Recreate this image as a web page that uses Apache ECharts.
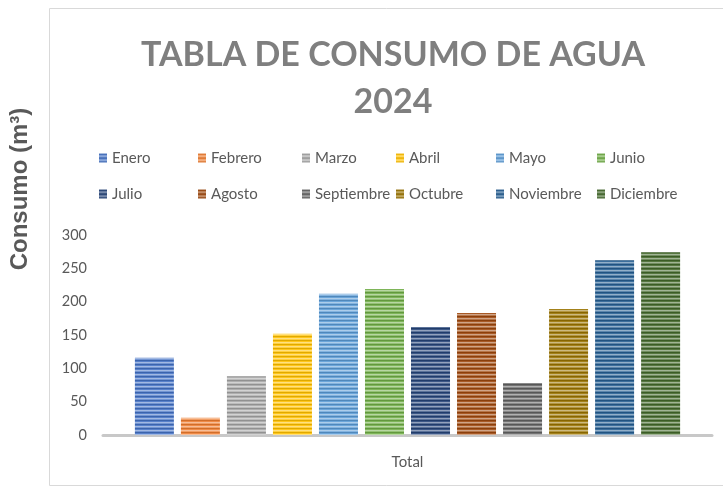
<!DOCTYPE html>
<html>
<head>
<meta charset="utf-8">
<script src="https://cdn.jsdelivr.net/npm/echarts@6/dist/echarts.min.js"></script>
<style>html,body{margin:0;padding:0;background:#fff;}#c{width:723px;height:487px;}</style>
</head>
<body>
<div id="c"></div>
<script>
const categories = ['Total'];
const months = ['Enero','Febrero','Marzo','Abril','Mayo','Junio','Julio','Agosto','Septiembre','Octubre','Noviembre','Diciembre'];
const values = [116, 26, 88, 152, 212, 219, 162, 183, 78, 189, 262, 274];
const yTicks = [0, 50, 100, 150, 200, 250, 300];
const colors = ['#4472C4','#ED7D31','#A5A5A5','#FFC000','#5B9BD5','#70AD47','#264478','#9E480E','#636363','#997300','#255E91','#43682B'];

function hex(c){return [parseInt(c.slice(1,3),16),parseInt(c.slice(3,5),16),parseInt(c.slice(5,7),16)];}
function mix(c,t,a){const x=hex(c);return 'rgb('+x.map(v=>Math.round(v+(t-v)*a)).join(',')+')';}
function stripe(c){
  const cv=document.createElement('canvas');cv.width=2;cv.height=4;
  const g=cv.getContext('2d');
  const rows=[mix(c,0,0.12),mix(c,255,0.1),mix(c,255,0.5),mix(c,255,0.25)];
  rows.forEach((r,i)=>{g.fillStyle=r;g.fillRect(0,i,2,1);});
  return {image:cv,repeat:'repeat'};
}

const chart = echarts.init(document.getElementById('c'));
const legendLefts=[99,198,302,396,496,597];
const legends = legendLefts.map((l,i)=>({
  orient:'vertical', left:l, top:148, padding:0, itemGap:16,
  itemWidth:8, itemHeight:9, icon:'rect',
  data:[months[i], months[i+6]],
  textStyle:{fontFamily:'Lato',fontSize:15,color:'#595959',lineHeight:20}
}));
const series = months.map((m,i)=>({
  name:m, type:'bar', barWidth:39, barGap:'18%',
  data:[values[i]],
  itemStyle:{color:stripe(colors[i])}
}));
chart.setOption({
  animation:false,
  title:{text:'TABLA DE CONSUMO DE AGUA\n2024', left:388, top:27, textAlign:'center',
    textStyle:{fontFamily:'Lato',fontWeight:'bold',fontSize:34,lineHeight:47,color:'#7f7f7f'}},
  legend:legends,
  grid:{left:103,right:11,top:235,bottom:52},
  xAxis:{type:'category',data:categories,
    axisLine:{lineStyle:{color:'#c8c8c8',width:3}},axisTick:{show:false},
    axisLabel:{fontFamily:'Lato',fontSize:15,color:'#595959',margin:20}},
  yAxis:{type:'value',min:yTicks[0],max:yTicks[yTicks.length-1],interval:50,
    axisLine:{show:false},axisTick:{show:false},splitLine:{show:false},
    axisLabel:{fontFamily:'Lato',fontSize:14.5,color:'#595959',margin:16}},
  graphic:[
    {type:'rect',shape:{x:49.5,y:8.5,width:720,height:477},style:{fill:null,stroke:'#d9d9d9',lineWidth:1},silent:true},
    {type:'text',x:20,y:189,rotation:Math.PI/2,
      style:{text:'Consumo (m³)',fontFamily:'Liberation Sans',fontWeight:'bold',fontSize:24,fill:'#595959',textAlign:'center',textVerticalAlign:'middle'}}
  ],
  series:series
});
</script>
</body>
</html>
